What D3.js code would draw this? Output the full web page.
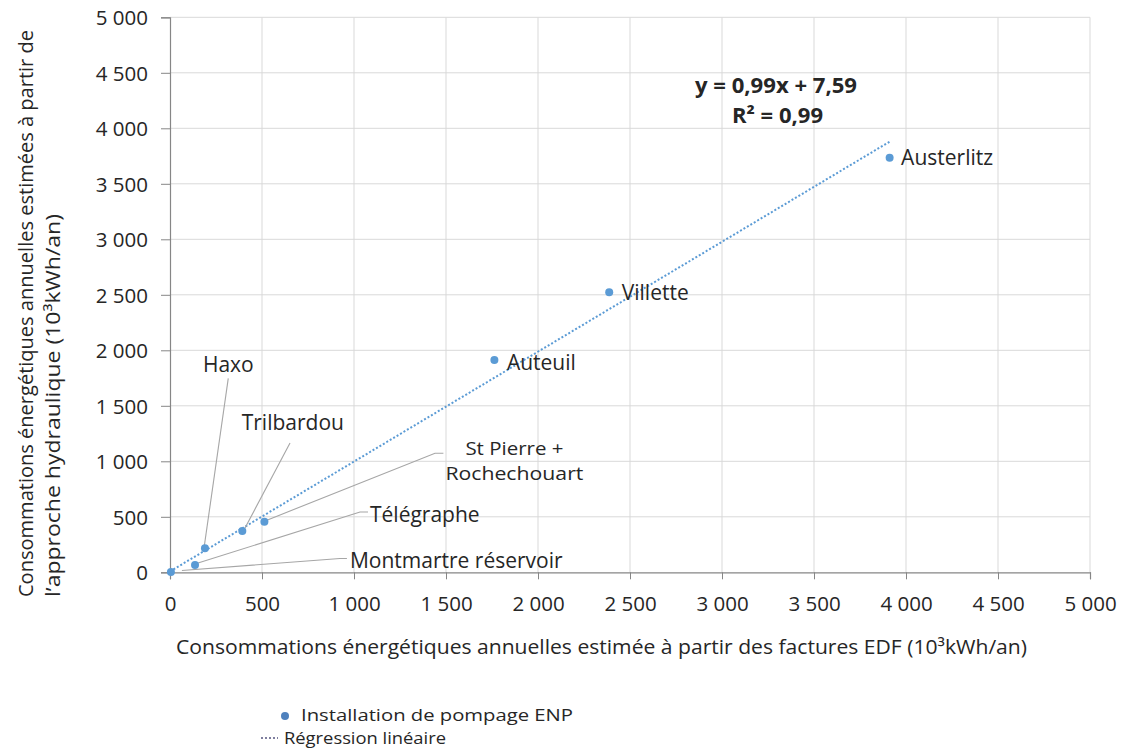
<!DOCTYPE html>
<html><head><meta charset="utf-8">
<script src="https://cdn.jsdelivr.net/npm/d3@7"></script>
<style>
html,body{margin:0;padding:0;background:#fff;}
text{font-family:"Open Sans",sans-serif;fill:#262626;}
</style></head>
<body>
<svg id="chart" width="1121" height="754"></svg>
<script>
// ---- data ----
const stations = ["Montmartre réservoir","Télégraphe","Haxo","Trilbardou","St Pierre + Rochechouart","Auteuil","Villette","Austerlitz"];
const edfValues = [5, 136, 190, 393, 513, 1763, 2387, 3911];
const hydroValues = [3, 66, 216, 372, 456, 1913, 2523, 3735];
const tickValues = [0,500,1000,1500,2000,2500,3000,3500,4000,4500,5000];
const regSlope = 0.99, regIntercept = 7.59;
const eqLines = ["y = 0,99x + 7,59", "R² = 0,99"];
const xTitle = "Consommations énergétiques annuelles estimée à partir des factures EDF (10³kWh/an)";
const yTitleLines = ["Consommations énergétiques annuelles estimées à partir de", "l’approche hydraulique (10³kWh/an)"];
const legendItems = ["Installation de pompage ENP", "Régression linéaire"];

// ---- layout (label placement, px offsets from the point) ----
const labelLayout = {
  "Montmartre réservoir": {lines:["Montmartre réservoir"], dx:179, dy:-4, anchor:"start", leader:[[11,-1.5],[169,-13.5],[176,-13.5]]},
  "Télégraphe": {lines:["Télégraphe"], dx:175, dy:-43, anchor:"start", leader:[[3,-2],[165,-53],[173,-53]]},
  "Haxo": {lines:["Haxo"], dx:-2, dy:-176, anchor:"start", leader:[[-0.7,-2],[23.3,-170]]},
  "Trilbardou": {lines:["Trilbardou"], dx:-0.6, dy:-101, anchor:"start", leader:[[2.7,-3],[47.7,-88]]},
  "St Pierre + Rochechouart": {lines:["St Pierre +","Rochechouart"], widths:[98,138], size:18, dx:250, dy:-67, anchor:"middle", leader:[[2.5,-1.5],[170.6,-68.4],[179,-68.4]]},
  "Auteuil": {lines:["Auteuil"], dx:12.5, dy:10, anchor:"start"},
  "Villette": {lines:["Villette"], dx:12.5, dy:7.7, anchor:"start"},
  "Austerlitz": {lines:["Austerlitz"], dx:11.5, dy:7.3, anchor:"start"}
};

const svg = d3.select("#chart");
const x = d3.scaleLinear().domain([0,5000]).range([170,1090]);
const y = d3.scaleLinear().domain([0,5000]).range([572.3,17.3]);
const loc = d3.formatLocale({decimal:",", thousands:" ", grouping:[3], currency:["","€"]});
const fmt = loc.format(",d");

const blue = "#5b9bd5";
const gridCol = "#d9d9d9";
const axisCol = "#868686";

// gridlines
svg.append("g").selectAll("line.v").data(tickValues.slice(1)).join("line")
  .attr("x1",d=>x(d)).attr("x2",d=>x(d)).attr("y1",y(0)).attr("y2",y(5000))
  .attr("stroke",gridCol).attr("stroke-width",1);
svg.append("g").selectAll("line.h").data(tickValues.slice(1)).join("line")
  .attr("x1",x(0)).attr("x2",x(5000)).attr("y1",d=>y(d)).attr("y2",d=>y(d))
  .attr("stroke",gridCol).attr("stroke-width",1);

// axes
const xAxis = svg.append("g").attr("transform",`translate(0,${y(0)})`)
  .call(d3.axisBottom(x).tickValues(tickValues).tickFormat(fmt).tickSize(7).tickPadding(17));
const yAxis = svg.append("g").attr("transform",`translate(${x(0)},0)`)
  .call(d3.axisLeft(y).tickValues(tickValues).tickFormat(fmt).tickSize(9).tickPadding(13));
[xAxis,yAxis].forEach(a=>{
  a.select(".domain").attr("stroke",axisCol).attr("stroke-width",1.2);
  a.selectAll(".tick line").attr("stroke",axisCol).attr("stroke-width",1);
  a.selectAll(".tick text").attr("font-family","Open Sans").attr("font-size",20.5).attr("fill","#262626");
});
yAxis.selectAll(".tick text").attr("dy","0.36em");
xAxis.selectAll(".tick text").attr("dy","0.71em");

// regression line
const xMax = d3.max(edfValues);
svg.append("line")
  .attr("x1",x(0)).attr("y1",y(regIntercept))
  .attr("x2",x(xMax)).attr("y2",y(regSlope*xMax+regIntercept))
  .attr("stroke",blue).attr("stroke-width",2).attr("stroke-dasharray","2,2");

// leader lines
const pts = stations.map((s,i)=>({name:s, px:x(edfValues[i]), py:y(hydroValues[i])}));
pts.forEach(p=>{
  const L = labelLayout[p.name];
  if(L.leader){
    svg.append("path")
      .attr("d", d3.line()(L.leader.map(o=>[p.px+o[0], p.py+o[1]])))
      .attr("fill","none").attr("stroke","#a6a6a6").attr("stroke-width",1.1);
  }
});

// points
svg.append("g").selectAll("circle").data(pts).join("circle")
  .attr("cx",d=>d.px).attr("cy",d=>d.py).attr("r",4).attr("fill",blue);

// labels
pts.forEach(p=>{
  const L = labelLayout[p.name];
  L.lines.forEach((ln,i)=>{
    const t = svg.append("text").attr("font-size",L.size||21).attr("text-anchor",L.anchor)
      .attr("x",p.px+L.dx).attr("y",p.py+L.dy+i*25).text(ln);
    if(L.widths) t.attr("textLength",L.widths[i]).attr("lengthAdjust","spacingAndGlyphs");
  });
});

// equation
svg.append("text").attr("x",695).attr("y",93)
  .attr("font-size",21).attr("font-weight","bold")
  .attr("textLength",162).attr("lengthAdjust","spacingAndGlyphs").text(eqLines[0]);
svg.append("text").attr("x",732).attr("y",123)
  .attr("font-size",21).attr("font-weight","bold")
  .attr("textLength",91).attr("lengthAdjust","spacingAndGlyphs").text(eqLines[1]);

// axis titles
svg.append("text").attr("x",176).attr("y",654).attr("font-size",20)
  .attr("textLength",851).attr("lengthAdjust","spacingAndGlyphs").text(xTitle);
svg.append("text").attr("transform","translate(33,597) rotate(-90)").attr("font-size",20)
  .attr("textLength",567).attr("lengthAdjust","spacingAndGlyphs").text(yTitleLines[0]);
svg.append("text").attr("transform","translate(60,597) rotate(-90)").attr("font-size",20)
  .attr("textLength",383).attr("lengthAdjust","spacingAndGlyphs").text(yTitleLines[1]);

// legend
svg.append("circle").attr("cx",285).attr("cy",716).attr("r",4).attr("fill","#4f81bd");
svg.append("text").attr("x",301).attr("y",721).attr("font-size",16.5)
  .attr("textLength",272).attr("lengthAdjust","spacingAndGlyphs").text(legendItems[0]);
svg.append("line").attr("x1",261).attr("x2",278).attr("y1",738).attr("y2",738)
  .attr("stroke","#7f7f9f").attr("stroke-width",2).attr("stroke-dasharray","2,2");
svg.append("text").attr("x",284).attr("y",744).attr("font-size",16.5)
  .attr("textLength",162).attr("lengthAdjust","spacingAndGlyphs").text(legendItems[1]);
</script>
</body></html>
